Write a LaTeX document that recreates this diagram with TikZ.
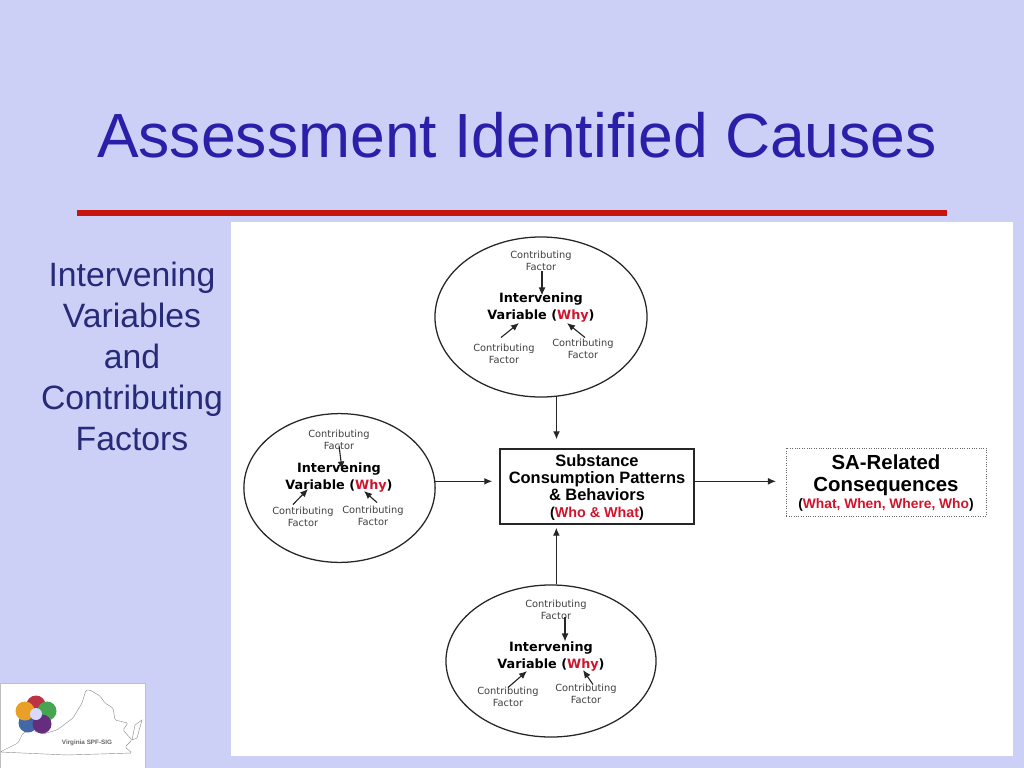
\documentclass[tikz,border=0pt]{standalone}
\usepackage{fontspec}
\setmainfont{Liberation Sans}
\newfontfamily\verdana{DejaVu Sans}
\usetikzlibrary{shapes.geometric,arrows.meta}
\definecolor{slidebg}{RGB}{204,208,247}
\definecolor{titleblue}{RGB}{42,31,168}
\definecolor{sideblue}{RGB}{38,42,120}
\definecolor{rulered}{RGB}{200,20,15}
\definecolor{whyred}{RGB}{208,20,44}
\tikzset{
  circ/.style={draw=black!85,line width=0.9pt,ellipse,inner sep=0pt},
  factor/.style={font=\verdana\fontsize{7}{8.5}\selectfont,align=center,text=black!75,inner sep=1pt},
  interv/.style={font=\verdana\bfseries\fontsize{9.1}{12.1}\selectfont,align=center,inner sep=1pt},
  arr/.style={-{Latex[length=0.2cm,width=0.17cm]},line width=0.8pt,black!85},
  lbl/.style={font=\bfseries\fontsize{11.7}{12.2}\selectfont,align=center,inner sep=0pt}
}
\newcommand{\why}[1]{\textcolor{whyred}{#1}}
\begin{document}
\begin{tikzpicture}[x=0.025cm,y=-0.025cm]
\useasboundingbox (0,0) rectangle (1024,768);
\fill[slidebg] (0,0) rectangle (1024,768);
\node[text=titleblue,font=\fontsize{44.4}{50}\selectfont] (title) at (517,135) {Assessment Identified Causes};
\fill[rulered] (77,210) rectangle (947,216);
\fill[white] (231,222) rectangle (1013,756);
\node[text=sideblue,align=center,font=\fontsize{24}{29.2}\selectfont] (side) at (132,356.5) {Intervening\\Variables\\and\\Contributing\\Factors};

% top group
\node[circ,minimum width=5.3cm,minimum height=4cm] (ellT) at (541,317) {};
\node[factor] (cfT) at (541,261) {Contributing\\Factor};
\node[interv] (ivT) at (541,308) {Intervening\\Variable (\why{Why})};
\node[factor] (cfTl) at (504,354) {Contributing\\Factor};
\node[factor] (cfTr) at (583,349) {Contributing\\Factor};
\coordinate (hTl) at (519,323);
\coordinate (hTr) at (567,323);
\draw[arr] (cfT.south) ++(1,-1) -- ++(0,24);
\draw[arr] (cfTl.north) ++(-3,-5) -- (hTl);
\draw[arr] (cfTr.north) ++(2,0) -- (hTr);

% left group
\node[circ,minimum width=4.78cm,minimum height=3.72cm] (ellL) at (339.5,488) {};
\node[factor] (cfL) at (339,440) {Contributing\\Factor};
\node[interv] (ivL) at (339,478) {Intervening\\Variable (\why{Why})};
\node[factor] (cfLl) at (303,517) {Contributing\\Factor};
\node[factor] (cfLr) at (373,516) {Contributing\\Factor};
\coordinate (hLl) at (308,489);
\coordinate (hLr) at (364,491);
\draw[arr] (cfL.south) ++(0,-6) -- ++(3,24);
\draw[arr] (cfLl.north) ++(-10,-1) -- (hLl);
\draw[arr] (cfLr.north) ++(4,-2) -- (hLr);

% bottom group
\node[circ,minimum width=5.25cm,minimum height=3.8cm] (ellB) at (551,661) {};
\node[factor] (cfB) at (556,610) {Contributing\\Factor};
\node[interv] (ivB) at (551,657) {Intervening\\Variable (\why{Why})};
\node[factor] (cfBl) at (508,697) {Contributing\\Factor};
\node[factor] (cfBr) at (586,694) {Contributing\\Factor};
\coordinate (hBl) at (527,671);
\coordinate (hBr) at (583,670);
\draw[arr] (cfB.south) ++(9,-4) -- ++(0,24);
\draw[arr] (cfBl.north) ++(0,2) -- (hBl);
\draw[arr] (cfBr.north) ++(7,2) -- (hBr);

% middle boxes
\node[draw=black!85,line width=1pt,minimum width=4.85cm,minimum height=1.875cm,inner sep=0pt] (box) at (597,486.5) {};
\node[lbl] (boxtxt) at (597,487.5) {Substance\\Consumption Patterns\\\& Behaviors\\{\fontsize{10.2}{12.2}\selectfont(\why{Who \& What})}};
\node[draw=black!60,densely dotted,line width=0.7pt,minimum width=5cm,minimum height=1.7cm,inner sep=0pt] (cons) at (886.5,482) {};
\node[lbl,font=\bfseries\fontsize{14.5}{15.2}\selectfont] (constxt) at (886,483) {SA-Related\\Consequences\\[-3pt]{\fontsize{9.8}{12}\selectfont(\why{What, When, Where, Who})}};

\draw[arr,shorten >=0.225cm] (ellT.-79) -- (ellT.-79 |- box.north);
\draw[arr,shorten >=0.075cm] (ellB.86) -- (ellB.86 |- box.south);
\draw[arr,shorten >=0.175cm] (ellL.4) -- (ellL.4 -| box.west);
\draw[arr,shorten >=0.25cm] (ellL.4 -| box.east) -- (ellL.4 -| cons.west);

% logo
\fill[white,draw=black!25] (0,683) rectangle (145,768);
\draw[black!45,line width=0.3pt,rounded corners=1pt] (0,752) -- (12,746) -- (18,743) -- (23,733) -- (32,730) -- (43,734) -- (57,730) -- (73,718) -- (82,703) -- (86,690) -- (90,690) -- (100,696) -- (105,703) -- (113,708) -- (115,720) -- (128,723) -- (123,730) -- (132,740) -- (125,747) -- (132,753) -- (67,755) -- cycle;
\draw[black!45,line width=0.3pt] (132,740) -- (135,725) -- (142,720) -- (137,738) -- cycle;
\definecolor{petalR}{RGB}{190,50,70}
\definecolor{petalG}{RGB}{70,165,80}
\definecolor{petalP}{RGB}{100,45,125}
\definecolor{petalB}{RGB}{65,105,170}
\definecolor{petalO}{RGB}{232,160,40}
\foreach \px/\py/\pc in {36/705/petalR,47/711/petalG,28/723/petalB,42/724/petalP,25/711/petalO}
  \fill[\pc] (\px,\py) circle (9.5);
\fill[blue!15!white] (36,714) circle (6);
\node[text=black!60,inner sep=0pt,font=\fontsize{4.5}{5}\bfseries\selectfont] (logotxt) at (87,743) {Virginia SPF-SIG};
\end{tikzpicture}
\end{document}
